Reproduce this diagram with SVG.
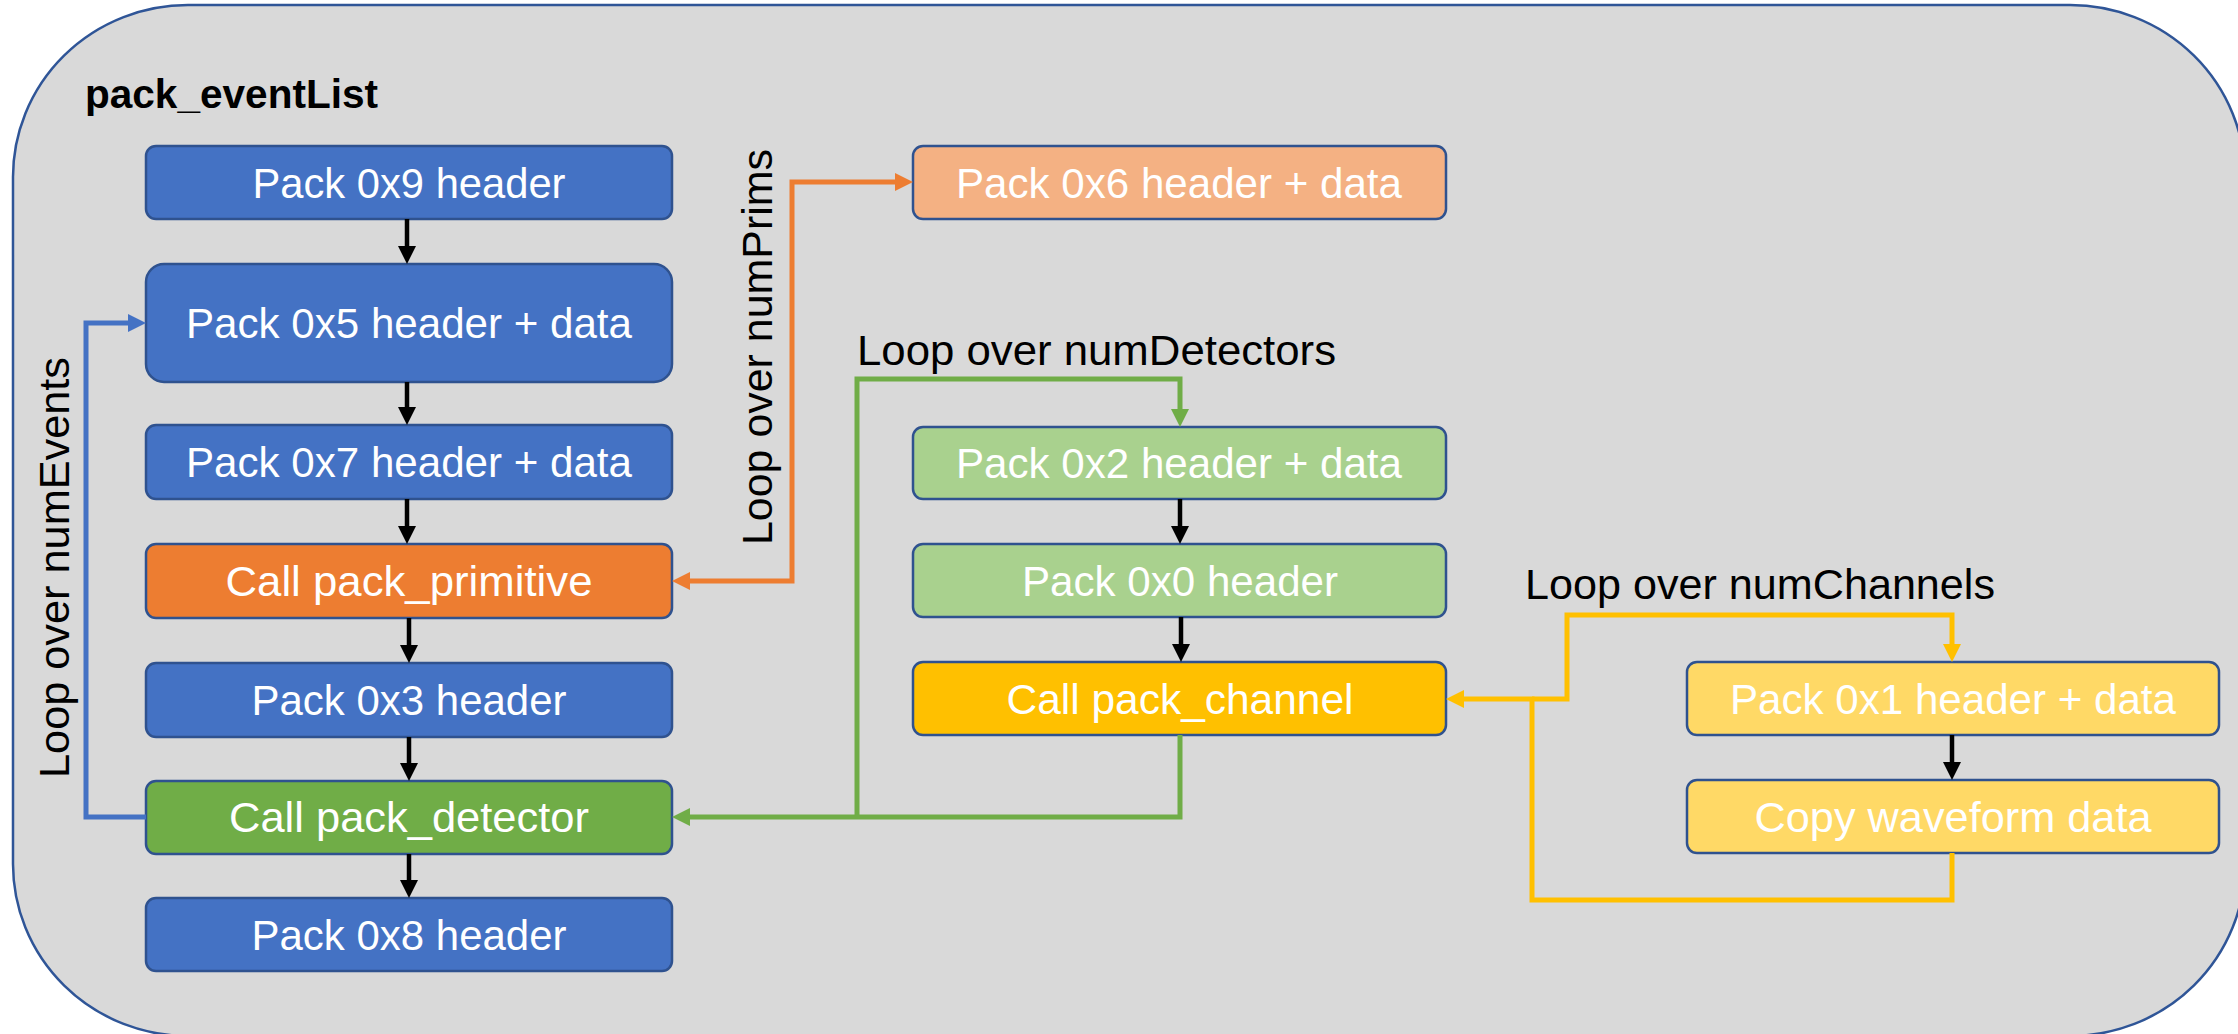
<svg xmlns="http://www.w3.org/2000/svg" width="2238" height="1034" viewBox="0 0 2238 1034">
  <style>
    .box { stroke: #2F528F; stroke-width: 2.5; }
    .blue { fill: #4472C4; }
    .orange { fill: #ED7D31; }
    .lorange { fill: #F4B183; }
    .green { fill: #70AD47; }
    .lgreen { fill: #A9D18E; }
    .gold { fill: #FFC000; }
    .lgold { fill: #FFD966; }
    .lbl { font-family: "Liberation Sans", Arial, sans-serif; font-size: 42px; fill: #FFFFFF; text-anchor: middle; }
    .loop { font-family: "Liberation Sans", Arial, sans-serif; font-size: 43px; fill: #000000; }
    .title { font-family: "Liberation Sans", Arial, sans-serif; font-size: 40px; font-weight: bold; fill: #000000; }
    .flow { fill: none; stroke: #000000; stroke-width: 4.5; marker-end: url(#ahBlack); }
    .c { fill: none; stroke-width: 5; stroke-linejoin: miter; }
  </style>
  <defs>
    <marker id="ahBlack" markerUnits="userSpaceOnUse" markerWidth="18" markerHeight="18" refX="0" refY="9" orient="auto">
      <path d="M0,0 L18,9 L0,18 z" fill="#000000"/>
    </marker>
    <marker id="ahBlue" markerUnits="userSpaceOnUse" markerWidth="18" markerHeight="18" refX="0" refY="9" orient="auto">
      <path d="M0,0 L18,9 L0,18 z" fill="#4472C4"/>
    </marker>
    <marker id="ahOrange" markerUnits="userSpaceOnUse" markerWidth="18" markerHeight="18" refX="0" refY="9" orient="auto-start-reverse">
      <path d="M0,0 L18,9 L0,18 z" fill="#ED7D31"/>
    </marker>
    <marker id="ahGreen" markerUnits="userSpaceOnUse" markerWidth="18" markerHeight="18" refX="0" refY="9" orient="auto">
      <path d="M0,0 L18,9 L0,18 z" fill="#70AD47"/>
    </marker>
    <marker id="ahGold" markerUnits="userSpaceOnUse" markerWidth="18" markerHeight="18" refX="0" refY="9" orient="auto">
      <path d="M0,0 L18,9 L0,18 z" fill="#FFC000"/>
    </marker>
  </defs>

  <!-- outer container for pack_eventList -->
  <g id="container">
    <rect x="13" y="5" width="2232" height="1031" rx="175" ry="172" fill="#D9D9D9" stroke="#2F5597" stroke-width="2.5"/>
    <text class="title" x="85" y="108" textLength="293" lengthAdjust="spacingAndGlyphs">pack_eventList</text>
  </g>

  <!-- left column -->
  <g id="n-0x9">
    <rect class="box blue" x="146" y="146" width="526" height="73" rx="10"/>
    <text class="lbl" x="409" y="198" textLength="313" lengthAdjust="spacingAndGlyphs">Pack 0x9 header</text>
  </g>
  <g id="n-0x5">
    <rect class="box blue" x="146" y="264" width="526" height="118" rx="18"/>
    <text class="lbl" x="409" y="338" textLength="446" lengthAdjust="spacingAndGlyphs">Pack 0x5 header + data</text>
  </g>
  <g id="n-0x7">
    <rect class="box blue" x="146" y="425" width="526" height="74" rx="10"/>
    <text class="lbl" x="409" y="477" textLength="446" lengthAdjust="spacingAndGlyphs">Pack 0x7 header + data</text>
  </g>
  <g id="n-primitive">
    <rect class="box orange" x="146" y="544" width="526" height="74" rx="10"/>
    <text class="lbl" x="409" y="596" textLength="367" lengthAdjust="spacingAndGlyphs">Call pack_primitive</text>
  </g>
  <g id="n-0x3">
    <rect class="box blue" x="146" y="663" width="526" height="74" rx="10"/>
    <text class="lbl" x="409" y="715" textLength="315" lengthAdjust="spacingAndGlyphs">Pack 0x3 header</text>
  </g>
  <g id="n-detector">
    <rect class="box green" x="146" y="781" width="526" height="73" rx="10"/>
    <text class="lbl" x="409" y="832" textLength="360" lengthAdjust="spacingAndGlyphs">Call pack_detector</text>
  </g>
  <g id="n-0x8">
    <rect class="box blue" x="146" y="898" width="526" height="73" rx="10"/>
    <text class="lbl" x="409" y="950" textLength="315" lengthAdjust="spacingAndGlyphs">Pack 0x8 header</text>
  </g>

  <!-- middle column -->
  <g id="n-0x6">
    <rect class="box lorange" x="913" y="146" width="533" height="73" rx="10"/>
    <text class="lbl" x="1179" y="198" textLength="446" lengthAdjust="spacingAndGlyphs">Pack 0x6 header + data</text>
  </g>
  <g id="n-0x2">
    <rect class="box lgreen" x="913" y="427" width="533" height="72" rx="10"/>
    <text class="lbl" x="1179" y="478" textLength="446" lengthAdjust="spacingAndGlyphs">Pack 0x2 header + data</text>
  </g>
  <g id="n-0x0">
    <rect class="box lgreen" x="913" y="544" width="533" height="73" rx="10"/>
    <text class="lbl" x="1180" y="596" textLength="316" lengthAdjust="spacingAndGlyphs">Pack 0x0 header</text>
  </g>
  <g id="n-channel">
    <rect class="box gold" x="913" y="662" width="533" height="73" rx="10"/>
    <text class="lbl" x="1180" y="714" textLength="347" lengthAdjust="spacingAndGlyphs">Call pack_channel</text>
  </g>

  <!-- right column -->
  <g id="n-0x1">
    <rect class="box lgold" x="1687" y="662" width="532" height="73" rx="10"/>
    <text class="lbl" x="1953" y="714" textLength="446" lengthAdjust="spacingAndGlyphs">Pack 0x1 header + data</text>
  </g>
  <g id="n-waveform">
    <rect class="box lgold" x="1687" y="780" width="532" height="73" rx="10"/>
    <text class="lbl" x="1953" y="832" textLength="397" lengthAdjust="spacingAndGlyphs">Copy waveform data</text>
  </g>

  <!-- loop labels -->
  <g id="loop-labels">
    <text class="loop" transform="translate(69,778) rotate(-90)" textLength="421" lengthAdjust="spacingAndGlyphs">Loop over numEvents</text>
    <text class="loop" transform="translate(772,545) rotate(-90)" textLength="396" lengthAdjust="spacingAndGlyphs">Loop over numPrims</text>
    <text class="loop" x="857" y="365" textLength="479" lengthAdjust="spacingAndGlyphs">Loop over numDetectors</text>
    <text class="loop" x="1525" y="599" textLength="470" lengthAdjust="spacingAndGlyphs">Loop over numChannels</text>
  </g>

  <!-- connectors -->
  <g id="connectors">
    <path class="flow" d="M407,219 V246"/>
    <path class="flow" d="M407,382 V407"/>
    <path class="flow" d="M407,499 V526"/>
    <path class="flow" d="M409,618 V645"/>
    <path class="flow" d="M409,737 V763"/>
    <path class="flow" d="M409,854 V880"/>
    <path class="flow" d="M1180,499 V526"/>
    <path class="flow" d="M1181,617 V644"/>
    <path class="flow" d="M1952,735 V762"/>

    <!-- numEvents loop -->
    <path class="c" stroke="#4472C4" d="M146,817 H86 V323 H128" marker-end="url(#ahBlue)"/>
    <!-- numPrims loop -->
    <path class="c" stroke="#ED7D31" d="M690,581 H792 V182 H895" marker-start="url(#ahOrange)" marker-end="url(#ahOrange)"/>
    <!-- numDetectors loop -->
    <path class="c" stroke="#70AD47" d="M1180,735 V817 H690" marker-end="url(#ahGreen)"/>
    <path class="c" stroke="#70AD47" d="M857,817 V379 H1180 V409" marker-end="url(#ahGreen)"/>
    <!-- numChannels loop -->
    <path class="c" stroke="#FFC000" d="M1952,853 V900 H1532 V699 H1464" marker-end="url(#ahGold)"/>
    <path class="c" stroke="#FFC000" d="M1532,699 H1567 V615 H1952 V644" marker-end="url(#ahGold)"/>
  </g>
</svg>
